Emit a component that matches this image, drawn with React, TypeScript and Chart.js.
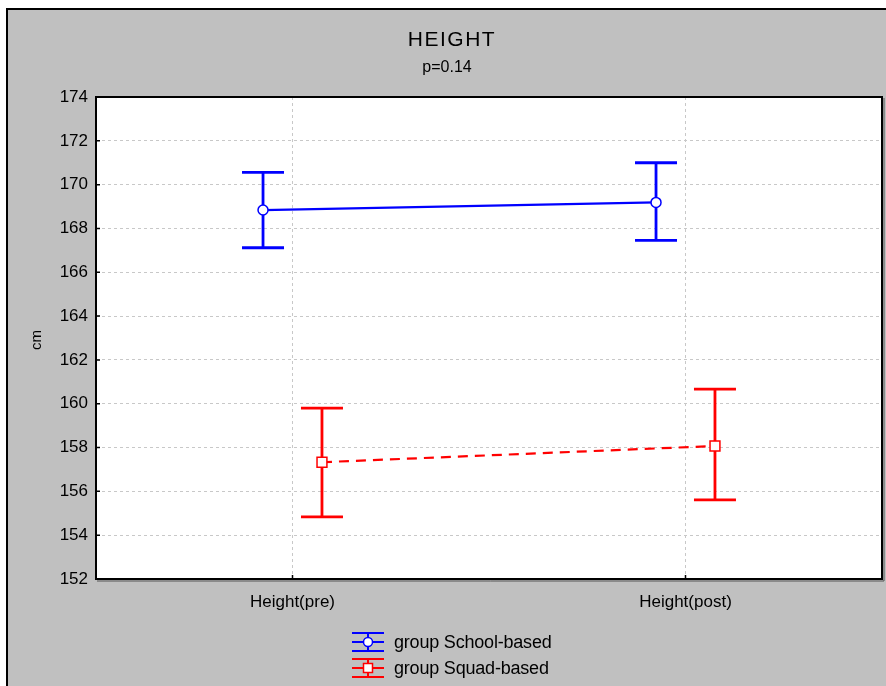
import React, { useEffect, useRef } from 'react';
import { Chart, registerables } from 'chart.js';

Chart.register(...registerables);

const categories = ['Height(pre)', 'Height(post)'];
const seriesNames = ['group School-based', 'group Squad-based'];
const schoolMean = [168.84, 169.19];
const schoolUpper = [170.56, 171.0];
const schoolLower = [167.12, 167.46];
const squadMean = [157.33, 158.07];
const squadUpper = [159.8, 160.67];
const squadLower = [154.84, 155.61];
const yMin = 152;
const yMax = 174;
const yStep = 2;
const titleText = 'HEIGHT';
const subtitleText = 'p=0.14';
const yAxisTitle = 'cm';

const GROUP_SHIFT = 0.075;
const BLUE = '#0000ff';
const RED = '#ff0000';
const FONT = '"Liberation Sans", Arial, sans-serif';

const W = 886;
const H = 686;

const backgroundPlugin = {
  id: 'bg',
  beforeDraw(chart: any) {
    const { ctx, chartArea } = chart;
    ctx.save();
    ctx.fillStyle = '#ffffff';
    ctx.fillRect(0, 0, W, H);
    ctx.fillStyle = '#c0c0c0';
    ctx.fillRect(8, 10, W - 8, H - 10);
    ctx.fillStyle = '#000000';
    ctx.fillRect(6, 8, W - 6, 2);
    ctx.fillRect(6, 8, 2, H - 8);
    ctx.fillStyle = '#ffffff';
    ctx.fillRect(chartArea.left, chartArea.top, chartArea.right - chartArea.left, chartArea.bottom - chartArea.top);
    ctx.restore();
  },
};

const errorBarPlugin = {
  id: 'errbars',
  beforeDatasetsDraw(chart: any) {
    const { ctx } = chart;
    const xs = chart.scales.x;
    const ys = chart.scales.y;
    chart.data.datasets.forEach((ds: any) => {
      ctx.save();
      ctx.strokeStyle = ds.borderColor;
      ctx.lineWidth = 2.8;
      ctx.setLineDash([]);
      ds.data.forEach((p: any, i: number) => {
        const x = xs.getPixelForValue(p.x);
        const yu = ys.getPixelForValue(ds.errUpper[i]);
        const yl = ys.getPixelForValue(ds.errLower[i]);
        ctx.beginPath();
        ctx.moveTo(x, yu);
        ctx.lineTo(x, yl);
        ctx.moveTo(x - 21, yu);
        ctx.lineTo(x + 21, yu);
        ctx.moveTo(x - 21, yl);
        ctx.lineTo(x + 21, yl);
        ctx.stroke();
      });
      ctx.restore();
    });
  },
};

const decorPlugin = {
  id: 'decor',
  afterDraw(chart: any) {
    const { ctx, chartArea } = chart;
    const xs = chart.scales.x;
    const ys = chart.scales.y;
    ctx.save();
    ctx.strokeStyle = '#000000';
    ctx.lineWidth = 2;
    ctx.setLineDash([]);
    ctx.strokeRect(chartArea.left, chartArea.top, chartArea.right - chartArea.left, chartArea.bottom - chartArea.top);
    ctx.lineWidth = 1;
    ctx.strokeStyle = '#555555';
    ctx.beginPath();
    ctx.moveTo(chartArea.right + 2, chartArea.top + 1);
    ctx.lineTo(chartArea.right + 2, chartArea.bottom + 2);
    ctx.lineTo(chartArea.left + 1, chartArea.bottom + 2);
    ctx.stroke();
    ctx.strokeStyle = '#000000';
    ctx.lineWidth = 1.5;
    ctx.beginPath();
    ys.ticks.forEach((t: any) => {
      const y = ys.getPixelForValue(t.value);
      ctx.moveTo(chartArea.left, y);
      ctx.lineTo(chartArea.left + 4, y);
    });
    xs.ticks.forEach((t: any) => {
      const x = xs.getPixelForValue(t.value);
      ctx.moveTo(x, chartArea.bottom);
      ctx.lineTo(x, chartArea.bottom - 4);
    });
    ctx.stroke();

    ctx.fillStyle = '#000000';
    ctx.textAlign = 'center';
    ctx.textBaseline = 'middle';
    ctx.font = `21px ${FONT}`;
    (ctx as any).letterSpacing = '1.5px';
    ctx.fillText(titleText, 452, 40);
    (ctx as any).letterSpacing = '0px';
    ctx.font = `16px ${FONT}`;
    ctx.fillText(subtitleText, 447, 68);

    ctx.save();
    ctx.translate(37, 340);
    ctx.rotate(-Math.PI / 2);
    ctx.font = `15px ${FONT}`;
    ctx.fillText(yAxisTitle, 0, 0);
    ctx.restore();

    const items = [
      { name: seriesNames[0], color: BLUE, marker: 'circle', cy: 642 },
      { name: seriesNames[1], color: RED, marker: 'rect', cy: 668 },
    ];
    items.forEach((it) => {
      const cx = 368;
      const cy = it.cy;
      ctx.strokeStyle = it.color;
      ctx.lineWidth = 2;
      ctx.beginPath();
      ctx.moveTo(352, cy - 9);
      ctx.lineTo(384, cy - 9);
      ctx.moveTo(352, cy + 9);
      ctx.lineTo(384, cy + 9);
      ctx.moveTo(352, cy);
      ctx.lineTo(384, cy);
      ctx.moveTo(cx, cy - 9);
      ctx.lineTo(cx, cy + 9);
      ctx.stroke();
      ctx.fillStyle = '#ffffff';
      ctx.lineWidth = 1.5;
      ctx.beginPath();
      if (it.marker === 'circle') {
        ctx.arc(cx, cy, 4.5, 0, Math.PI * 2);
      } else {
        ctx.rect(cx - 4.5, cy - 4.5, 9, 9);
      }
      ctx.fill();
      ctx.stroke();
      ctx.fillStyle = '#000000';
      ctx.textAlign = 'left';
      ctx.textBaseline = 'middle';
      ctx.font = `18px ${FONT}`;
      (ctx as any).letterSpacing = '-0.2px';
      ctx.fillText(it.name, 394, cy + 1);
      (ctx as any).letterSpacing = '0px';
    });
    ctx.restore();
  },
};

export default function App() {
  const canvasRef = useRef<HTMLCanvasElement | null>(null);

  useEffect(() => {
    const canvas = canvasRef.current;
    if (!canvas) return;
    const chart = new Chart(canvas, {
      type: 'line',
      data: {
        datasets: [
          {
            label: seriesNames[0],
            data: categories.map((_, i) => ({ x: i - GROUP_SHIFT, y: schoolMean[i] })),
            borderColor: BLUE,
            borderWidth: 2.2,
            pointStyle: 'circle',
            pointRadius: 5,
            pointBackgroundColor: '#ffffff',
            pointBorderColor: BLUE,
            pointBorderWidth: 1.5,
            fill: false,
            tension: 0,
            errUpper: schoolUpper,
            errLower: schoolLower,
          } as any,
          {
            label: seriesNames[1],
            data: categories.map((_, i) => ({ x: i + GROUP_SHIFT, y: squadMean[i] })),
            borderColor: RED,
            borderWidth: 2.2,
            borderDash: [10, 7],
            pointStyle: 'rect',
            pointRadius: 7,
            pointBackgroundColor: '#ffffff',
            pointBorderColor: RED,
            pointBorderWidth: 1.5,
            fill: false,
            tension: 0,
            errUpper: squadUpper,
            errLower: squadLower,
          } as any,
        ],
      },
      options: {
        animation: false,
        responsive: false,
        maintainAspectRatio: false,
        layout: { autoPadding: false, padding: { left: 0, top: 97, right: 4, bottom: 0 } },
        plugins: {
          legend: { display: false },
          tooltip: { enabled: false },
          title: { display: false },
        },
        scales: {
          x: {
            type: 'linear',
            min: -0.5,
            max: 1.5,
            afterBuildTicks: (s: any) => {
              s.ticks = categories.map((_, i) => ({ value: i }));
            },
            afterFit: (s: any) => {
              s.height = 107;
              s.paddingLeft = 0;
              s.paddingRight = 0;
            },
            ticks: {
              autoSkip: false,
              maxRotation: 0,
              padding: 13,
              color: '#000000',
              font: { family: FONT, size: 17 },
              callback: (v: any) => categories[v] ?? '',
            },
            grid: { color: '#c8c8c8', lineWidth: 1, drawTicks: false },
            border: { display: false, dash: [3, 3] },
          },
          y: {
            type: 'linear',
            min: yMin,
            max: yMax,
            afterFit: (s: any) => {
              s.width = 96;
            },
            ticks: {
              stepSize: yStep,
              padding: 8,
              color: '#000000',
              font: { family: FONT, size: 17 },
            },
            grid: { color: '#c8c8c8', lineWidth: 1, drawTicks: false },
            border: { display: false, dash: [3, 3] },
          },
        },
      } as any,
      plugins: [backgroundPlugin, errorBarPlugin, decorPlugin],
    });
    return () => chart.destroy();
  }, []);

  return (
    <div style={{ position: 'fixed', left: 0, top: 0, width: W, height: H }}>
      <canvas ref={canvasRef} width={W} height={H} style={{ display: 'block', width: W, height: H }} />
    </div>
  );
}
